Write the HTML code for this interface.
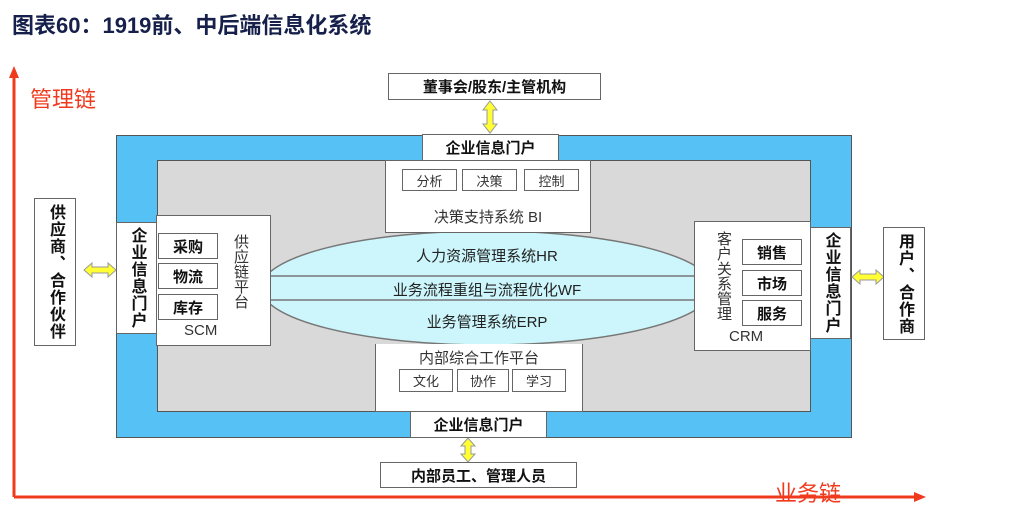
<!DOCTYPE html>
<html><head><meta charset="utf-8"><style>
body{margin:0;width:1024px;height:514px;background:#fff;position:relative;overflow:hidden;font-family:"Liberation Sans","Noto Sans CJK SC",sans-serif;}
.a{position:absolute;box-sizing:border-box;}
.bx{position:absolute;box-sizing:border-box;background:#fff;border:1.5px solid #666;}
.c{display:flex;align-items:center;justify-content:center;}
.b{font-weight:bold;color:#111;}
.v{writing-mode:vertical-rl;text-orientation:upright;letter-spacing:1px;}
.btn{position:absolute;box-sizing:border-box;background:#fff;border:1.5px solid #666;display:flex;align-items:center;justify-content:center;}
</style></head><body>
<div class="a" style="left:12px;top:8px;font-size:22px;font-weight:bold;color:#16204a;">图表60：1919前、中后端信息化系统</div>

<div class="a" style="left:116px;top:135px;width:736px;height:303px;background:#55c1f5;border:1px solid #555;"></div>
<div class="a" style="left:157px;top:160px;width:654px;height:252px;background:#d9d9d9;border:1px solid #555;"></div>

<svg class="a" style="left:0;top:0" width="1024" height="514">
<line x1="14" y1="497" x2="14" y2="76" stroke="#f03a1e" stroke-width="3"/>
<path d="M14,66 L9,78 L19,78Z" fill="#f03a1e"/>
<line x1="14" y1="497" x2="916" y2="497" stroke="#f03a1e" stroke-width="3"/>
<path d="M926,497 L914,492 L914,502Z" fill="#f03a1e"/>
<ellipse cx="487" cy="288" rx="226" ry="57" fill="#ccf6fb" stroke="#777" stroke-width="1.5"/>
<line x1="268" y1="276" x2="708" y2="276" stroke="#777" stroke-width="1.5"/>
<line x1="268" y1="300" x2="708" y2="300" stroke="#777" stroke-width="1.5"/>
<g fill="#ffff33" stroke="#999" stroke-width="1">
<path d="M490,101 L497,110 L493,110 L493,124 L497,124 L490,133 L483,124 L487,124 L487,110 L483,110Z"/>
<path d="M468,438 L475,446 L471,446 L471,454 L475,454 L468,462 L461,454 L465,454 L465,446 L461,446Z"/>
<path d="M84,270 L92,263 L92,267 L108,267 L108,263 L116,270 L108,277 L108,273 L92,273 L92,277Z"/>
<path d="M852,277 L860,270 L860,274 L876,274 L876,270 L884,277 L876,284 L876,280 L860,280 L860,284Z"/>
</g>
</svg>

<div class="a" style="left:30px;top:82px;font-size:22px;color:#f03a1e;">管理链</div>
<div class="a" style="left:775px;top:476px;font-size:22px;color:#f03a1e;">业务链</div>

<div class="bx c b" style="left:388px;top:73px;width:213px;height:27px;font-size:15px;">董事会/股东/主管机构</div>
<div class="bx c b" style="left:422px;top:134px;width:137px;height:27px;font-size:15px;">企业信息门户</div>
<div class="bx" style="left:385px;top:160px;width:206px;height:73px;"></div>
<div class="btn" style="left:402px;top:169px;width:55px;height:22px;font-size:13px;color:#333;">分析</div>
<div class="btn" style="left:462px;top:169px;width:55px;height:22px;font-size:13px;color:#333;">决策</div>
<div class="btn" style="left:524px;top:169px;width:55px;height:22px;font-size:13px;color:#333;">控制</div>
<div class="a" style="left:385px;top:206px;width:206px;text-align:center;font-size:15px;color:#333;">决策支持系统 BI</div>

<div class="a" style="left:262px;top:245px;width:450px;text-align:center;font-size:15px;color:#222;">人力资源管理系统HR</div>
<div class="a" style="left:262px;top:279px;width:450px;text-align:center;font-size:15px;color:#222;">业务流程重组与流程优化WF</div>
<div class="a" style="left:262px;top:311px;width:450px;text-align:center;font-size:15px;color:#222;">业务管理系统ERP</div>

<div class="bx" style="left:375px;top:344px;width:208px;height:68px;border-top:none;"></div>
<div class="a" style="left:375px;top:347px;width:208px;text-align:center;font-size:15px;color:#333;">内部综合工作平台</div>
<div class="btn" style="left:399px;top:369px;width:54px;height:23px;font-size:13px;color:#333;">文化</div>
<div class="btn" style="left:457px;top:369px;width:52px;height:23px;font-size:13px;color:#333;">协作</div>
<div class="btn" style="left:512px;top:369px;width:54px;height:23px;font-size:13px;color:#333;">学习</div>
<div class="bx c b" style="left:410px;top:411px;width:137px;height:27px;font-size:15px;">企业信息门户</div>
<div class="bx c b" style="left:380px;top:462px;width:197px;height:26px;font-size:15px;">内部员工、管理人员</div>

<div class="bx c b v" style="left:34px;top:198px;width:42px;height:148px;font-size:16px;">供应商、合作伙伴</div>
<div class="bx c b v" style="left:116px;top:222px;width:41px;height:112px;font-size:16px;">企业信息门户</div>
<div class="bx" style="left:156px;top:215px;width:115px;height:131px;"></div>
<div class="btn b" style="left:158px;top:233px;width:60px;height:26px;font-size:15px;">采购</div>
<div class="btn b" style="left:158px;top:263px;width:60px;height:26px;font-size:15px;">物流</div>
<div class="btn b" style="left:158px;top:294px;width:60px;height:26px;font-size:15px;">库存</div>
<div class="a v" style="left:230px;top:234px;font-size:15px;color:#333;letter-spacing:0;">供应链平台</div>
<div class="a" style="left:184px;top:322px;font-size:15px;color:#333;">SCM</div>

<div class="bx" style="left:694px;top:221px;width:117px;height:130px;"></div>
<div class="a v" style="left:713px;top:231px;font-size:15px;color:#333;letter-spacing:0;">客户关系管理</div>
<div class="btn b" style="left:742px;top:239px;width:60px;height:26px;font-size:15px;">销售</div>
<div class="btn b" style="left:742px;top:270px;width:60px;height:26px;font-size:15px;">市场</div>
<div class="btn b" style="left:742px;top:300px;width:60px;height:26px;font-size:15px;">服务</div>
<div class="a" style="left:729px;top:328px;font-size:15px;color:#333;">CRM</div>
<div class="bx c b v" style="left:810px;top:227px;width:41px;height:112px;font-size:16px;">企业信息门户</div>
<div class="bx c b v" style="left:883px;top:227px;width:42px;height:113px;font-size:16px;">用户、合作商</div>
</body></html>
